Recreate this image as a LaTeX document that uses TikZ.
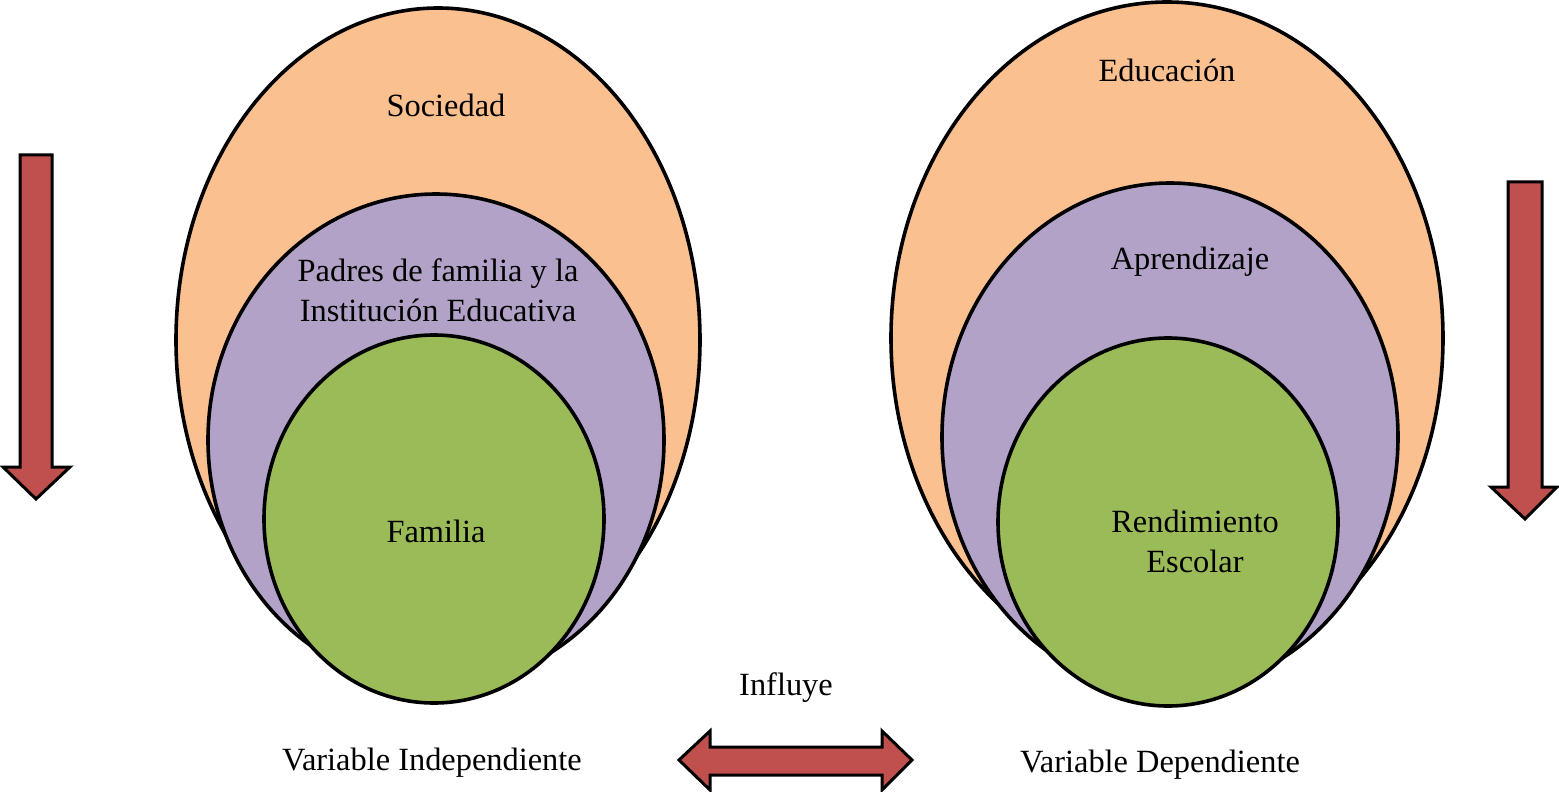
\documentclass[tikz,border=0pt]{standalone}
\usepackage{fontspec}
\setmainfont{Liberation Serif}
\definecolor{naranja}{HTML}{FAC090}
\definecolor{lila}{HTML}{B2A2C7}
\definecolor{verde}{HTML}{9BBB59}
\definecolor{rojo}{HTML}{C0504D}

\begin{document}
\begin{tikzpicture}[x=0.5pt,y=-0.5pt,font=\fontsize{16.2}{20}\selectfont,
  capa/.style={draw=black,line width=1.8pt},
  flecha/.style={draw=black,line width=1.5pt,fill=rojo,line join=miter},
  txt/.style={inner sep=0pt,align=center}]
\useasboundingbox (0,0) rectangle (1559,792);

% variable independiente
\begin{scope}
\coordinate (soc) at (438,340);
\coordinate (pad) at (436,440);
\coordinate (fam) at (434,519);

\fill[naranja,capa] (soc) ellipse [x radius=262,y radius=332];
\fill[lila,capa] (pad) ellipse [x radius=228,y radius=246];
\fill[verde,capa] (fam) ellipse [x radius=170,y radius=184];

\node[txt,anchor=base] (sociedad) at (446,117) {Sociedad};
\node[txt] (padres) at (438,290) {Padres de familia y la\\Institución Educativa};
\node[txt,anchor=base] (familia) at (436,542) {Familia};
\end{scope}

% variable dependiente
\begin{scope}
\coordinate (edu) at (1167,338);
\coordinate (apr) at (1170,437);
\coordinate (ren) at (1168,522);

\fill[naranja,capa] (edu) ellipse [x radius=276,y radius=336];
\fill[lila,capa] (apr) ellipse [x radius=228,y radius=254];
\fill[verde,capa] (ren) ellipse [x radius=170,y radius=184];

\node[txt,anchor=base] (educacion) at (1167,82) {Educación};
\node[txt,anchor=base] (aprendizaje) at (1190,270) {Aprendizaje};
\node[txt] (rendimiento) at (1195,541) {Rendimiento\\Escolar};
\end{scope}

% flechas
\filldraw[flecha] (20,155) -- (52,155) -- (52,467) -- (70,467) -- (36,499)
  -- (3,467) -- (20,467) -- cycle;
\filldraw[flecha] (1508,182) -- (1542,182) -- (1542,487) -- (1557,487)
  -- (1525,519) -- (1491,487) -- (1508,487) -- cycle;
\filldraw[flecha] (679,760) -- (710,731) -- (710,747) -- (882,747) -- (882,731)
  -- (912,760) -- (882,790) -- (882,775) -- (710,775) -- (710,790) -- cycle;

\node[txt,anchor=base] (influye) at (786,695) {Influye};
\node[txt,anchor=base] (vi) at (432,770) {Variable Independiente};
\node[txt,anchor=base] (vd) at (1160,772) {Variable Dependiente};

\end{tikzpicture}
\end{document}
